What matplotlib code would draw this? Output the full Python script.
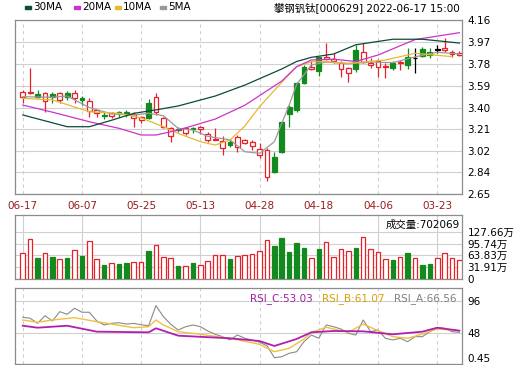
import numpy as np
import matplotlib.pyplot as plt

plt.rcParams['font.family'] = ['DejaVu Sans', 'Noto Sans CJK SC']

# all series are listed newest first, the way the chart draws them left to right
date_labels = ['06-17', '06-07', '05-25', '05-13', '04-28', '04-18', '04-06', '03-23']
date_pos = [0, 8, 16, 24, 32, 40, 48, 56]

opens = [3.494, 3.525, 3.515, 3.46, 3.515, 3.465, 3.53, 3.48, 3.48, 3.373,
         3.35, 3.335, 3.33, 3.36, 3.36, 3.307, 3.292, 3.437, 3.364, 3.233,
         3.153, 3.215, 3.176, 3.22, 3.215, 3.118, 3.118, 3.046, 3.10, 3.055,
         3.095, 3.066, 2.99, 2.80, 2.968, 3.277, 3.407, 3.617, 3.756, 3.733,
         3.836, 3.818, 3.80, 3.732, 3.697, 3.90, 3.798, 3.77, 3.755, 3.75,
         3.79, 3.784, 3.836, 3.827, 3.906, 3.885, 3.90, 3.90, 3.865, 3.86]
closes = [3.538, 3.535, 3.495, 3.524, 3.495, 3.529, 3.494, 3.529, 3.465, 3.46,
          3.378, 3.325, 3.35, 3.35, 3.35, 3.345, 3.315, 3.307, 3.494, 3.307,
          3.22, 3.205, 3.22, 3.21, 3.23, 3.17, 3.13, 3.11, 3.075, 3.147,
          3.118, 3.104, 3.038, 3.03, 2.843, 3.017, 3.344, 3.38, 3.617, 3.755,
          3.72, 3.84, 3.82, 3.79, 3.746, 3.732, 3.885, 3.785, 3.804, 3.76,
          3.74, 3.798, 3.77, 3.827, 3.848, 3.855, 3.90, 3.914, 3.885, 3.875]
highs = [3.552, 3.74, 3.55, 3.538, 3.538, 3.538, 3.545, 3.55, 3.50, 3.48,
         3.38, 3.364, 3.364, 3.37, 3.375, 3.364, 3.33, 3.471, 3.524, 3.315,
         3.233, 3.23, 3.233, 3.233, 3.24, 3.19, 3.22, 3.15, 3.13, 3.16,
         3.13, 3.118, 3.09, 3.046, 3.017, 3.28, 3.42, 3.625, 3.77, 3.80,
         3.84, 3.957, 3.876, 3.807, 3.755, 3.943, 3.957, 3.827, 3.818, 3.784,
         3.80, 3.81, 3.914, 3.914, 3.928, 3.914, 3.943, 4.00, 3.90, 3.89]
lows = [3.44, 3.52, 3.48, 3.364, 3.437, 3.437, 3.465, 3.437, 3.42, 3.316,
        3.316, 3.30, 3.31, 3.32, 3.32, 3.233, 3.27, 3.30, 3.335, 3.22,
        3.10, 3.19, 3.16, 3.176, 3.17, 3.10, 3.118, 2.99, 3.06, 3.017,
        3.08, 3.03, 2.96, 2.765, 2.835, 3.01, 3.233, 3.364, 3.605, 3.726,
        3.674, 3.813, 3.784, 3.668, 3.624, 3.71, 3.784, 3.74, 3.668, 3.654,
        3.73, 3.726, 3.732, 3.697, 3.84, 3.83, 3.87, 3.885, 3.84, 3.85]
volumes = [70.2, 108, 57.6, 69.3, 60.3, 54, 57.6, 78.3, 62, 102.6,
           54, 37.8, 42.3, 40.5, 44, 46.8, 46.8, 75.6, 91.8, 60.3,
           57.6, 36, 36, 42.3, 37.8, 48.6, 64.8, 64.8, 54, 62,
           64.8, 66.6, 75.6, 105.3, 90, 109.8, 73.8, 96.3, 82.8, 55.8,
           81, 99, 60.3, 81, 75.6, 82.8, 112.5, 81, 73.8, 54,
           51.3, 60.3, 69.3, 55.8, 37.8, 39.7, 55.8, 69.3, 57.6, 51.3]

ma5_idx = [0, 4, 6, 9, 12, 15, 17, 19, 21, 23, 25, 28, 30, 32, 34, 36, 37, 39, 41, 44, 47, 50, 53, 56, 59]
ma5 = [3.494, 3.49, 3.50, 3.40, 3.345, 3.335, 3.35, 3.33, 3.22, 3.205, 3.15, 3.12, 3.017,
       3.003, 3.104, 3.422, 3.60, 3.77, 3.795, 3.78, 3.795, 3.79, 3.84, 3.88, 3.865]
ma10_idx = [0, 4, 9, 13, 16, 19, 21, 24, 26, 28, 30, 32, 35, 37, 39, 41, 44, 49, 53, 58]
ma10 = [3.48, 3.466, 3.364, 3.35, 3.31, 3.234, 3.176, 3.104, 3.075, 3.118, 3.24, 3.408,
        3.62, 3.755, 3.798, 3.798, 3.784, 3.813, 3.871, 3.842]
ma20_idx = [0, 4, 9, 13, 16, 18, 19, 21, 26, 30, 35, 37, 39, 42, 45, 48, 53, 59]
ma20 = [3.422, 3.36, 3.277, 3.22, 3.162, 3.162, 3.176, 3.205, 3.30, 3.42, 3.63, 3.755,
        3.813, 3.82, 3.80, 3.856, 3.99, 4.05]
ma30_idx = [0, 6, 9, 12, 15, 18, 21, 26, 30, 35, 37, 39, 42, 45, 50, 54, 59]
ma30 = [3.336, 3.234, 3.234, 3.29, 3.35, 3.38, 3.414, 3.50, 3.595, 3.735, 3.80, 3.836,
        3.865, 3.945, 3.993, 3.993, 3.96]

rsi_a = [71.3, 69.8, 62.2, 73.7, 65.7, 79.8, 75.8, 85, 78.9, 78.9,
         65.7, 59.6, 62.2, 63, 61, 62, 60, 58.5, 88.9, 72.2,
         60.7, 52, 57, 59.6, 57, 50.5, 45.5, 41.9, 36.9, 44.4,
         39.4, 36.9, 33.4, 28.2, 10, 11.5, 16.7, 19.1, 34.3, 44.4,
         39.4, 59.6, 57, 53.5, 47, 44.4, 67.2, 49.5, 52, 39.4,
         36.9, 39.4, 34.3, 41.9, 41.9, 49.5, 55.5, 54.6, 49.5, 48.5]
rsi_b_idx = [0, 2, 4, 7, 10, 15, 17, 18, 19, 21, 24, 28, 32, 34, 36, 38, 39, 41, 44, 46, 48, 50, 52, 54, 56, 59]
rsi_b = [67.2, 63.7, 67.2, 70.7, 64.6, 55.5, 57, 67.2, 59.6, 49.5, 45.5, 39.4, 30.3, 19.1,
         24.3, 38.4, 48.5, 56.1, 48.5, 61.1, 51, 41.9, 39.4, 45.9, 53.5, 51]
rsi_c_idx = [0, 2, 6, 10, 17, 18, 21, 28, 32, 34, 37, 39, 42, 46, 50, 54, 56, 59]
rsi_c = [58.5, 55.5, 58.5, 49.5, 48.5, 54.6, 43.4, 39.4, 35.3, 27.8, 38.4, 48.5, 50.5,
         50, 45.5, 49.5, 55.5, 51]

vol_ticks = [0, 31.91, 63.83, 95.74, 127.66]
vol_labels = ['0', '31.91万', '63.83万', '95.74万', '127.66万']
price_ticks = [2.65, 2.84, 3.02, 3.21, 3.40, 3.59, 3.78, 3.97, 4.16]
rsi_ticks = [0.45, 48, 96]

RED = '#e8202a'
GREEN = '#138a1e'
GRID = '#d0d0d0'
FRAME = '#8c8c8c'
C5, C10, C20, C30 = '#9a9a9a', '#e8b830', '#cc33cc', '#0d4a3a'

n = len(opens)
x = np.arange(n)
o = np.array(opens); c = np.array(closes)
colors = np.where(c > o, RED, np.where(c < o, GREEN, '#000000'))
fills = np.where(c > o, 'white', colors)

fig = plt.figure(figsize=(5.2, 3.65), dpi=100)
W, H = 520, 365


def box(l, t, r, b):
    return [l / W, 1 - b / H, (r - l) / W, (b - t) / H]


ax = fig.add_axes(box(15, 20, 462, 194))
axv = fig.add_axes(box(15, 215, 462, 279))
axr = fig.add_axes(box(15, 288, 462, 364))
xlim = (-1.05, 59.35)

for a in (ax, axv, axr):
    a.set_xlim(xlim)
    for s in a.spines.values():
        s.set_color(FRAME)
        s.set_linewidth(0.9)
    a.yaxis.tick_right()
    a.tick_params(axis='y', length=0, pad=4, labelsize=7.5)
    a.tick_params(axis='x', length=0)
    a.set_xticks(date_pos)
    a.set_axisbelow(True)

# price panel
ax.set_ylim(2.65, 4.16)
ax.set_yticks(price_ticks)
ax.set_yticklabels(['%.2f' % v for v in price_ticks])
ax.grid(axis='y', color=GRID, lw=0.8)
ax.grid(axis='x', color=GRID, lw=0.8, ls=(0, (3, 3)))
ax.set_xticklabels(date_labels, color='#9b1b1b', fontsize=7.5)
ax.tick_params(axis='x', pad=5)

ax.vlines(x, lows, highs, colors=colors, lw=0.9, zorder=2)
body_h = np.maximum(np.abs(c - o), 0.004)
ax.bar(x, body_h, bottom=np.minimum(o, c), width=0.66, color=fills,
       edgecolor=colors, linewidth=0.9, zorder=3)

ax.plot(ma5_idx, ma5, color=C5, lw=0.9, zorder=4)
ax.plot(ma10_idx, ma10, color=C10, lw=0.9, zorder=4)
ax.plot(ma20_idx, ma20, color=C20, lw=0.9, zorder=4)
ax.plot(ma30_idx, ma30, color=C30, lw=0.9, zorder=4)

# header texts above the price panel
legend_items = [(28, '30MA', C30), (77, '20MA', C20), (118, '10MA', C10), (163, '5MA', C5)]
for px, name, col in legend_items:
    fig.patches.append(plt.Rectangle(((px - 3) / W, 1 - 9 / H), 6 / W, 3 / H,
                                     transform=fig.transFigure, color=col))
    fig.text((px + 5) / W, 1 - 7.5 / H, name, fontsize=7.5, va='center')
fig.text(460 / W, 1 - 7.5 / H, '攀钢钒钛[000629] 2022-06-17 15:00',
         fontsize=7.5, va='center', ha='right')

# volume panel
axv.set_ylim(0, 172.7)
axv.set_yticks(vol_ticks)
axv.set_yticklabels(vol_labels)
axv.set_xticklabels([])
axv.grid(axis='y', color=GRID, lw=0.8)
axv.grid(axis='x', color=GRID, lw=0.8)
vfill = np.where(colors == '#000000', 'white', fills)
vedge = np.where(colors == '#000000', RED, colors)
axv.bar(x, volumes, width=0.62, color=vfill, edgecolor=vedge, linewidth=0.9, zorder=3)
axv.text(0.995, 0.93, '成交量:702069', transform=axv.transAxes, ha='right', va='top',
         fontsize=7.5)

# RSI panel
axr.set_ylim(0.45, 115.7)
axr.set_yticks(rsi_ticks)
axr.set_yticklabels(['0.45', '48', '96'])
axr.get_yticklabels()[0].set_va('bottom')
axr.set_xticklabels([])
axr.grid(axis='y', color=GRID, lw=0.8)
axr.grid(axis='x', color=GRID, lw=0.8, ls=(0, (3, 3)))
axr.plot(x, rsi_a, color='#8a8a8a', lw=0.8, zorder=3)
axr.plot(rsi_b_idx, rsi_b, color='#f0c040', lw=1.0, zorder=3)
axr.plot(rsi_c_idx, rsi_c, color='#b020b0', lw=1.3, zorder=3)
axr.text((250 - 15) / 447, 0.93, 'RSI_C:53.03', transform=axr.transAxes,
         color='#a020a0', fontsize=7.5, va='top')
axr.text((322 - 15) / 447, 0.93, 'RSI_B:61.07', transform=axr.transAxes,
         color='#d4a000', fontsize=7.5, va='top')
axr.text((394 - 15) / 447, 0.93, 'RSI_A:66.56', transform=axr.transAxes,
         color='#808080', fontsize=7.5, va='top')

fig.savefig('out.png', dpi=100)
